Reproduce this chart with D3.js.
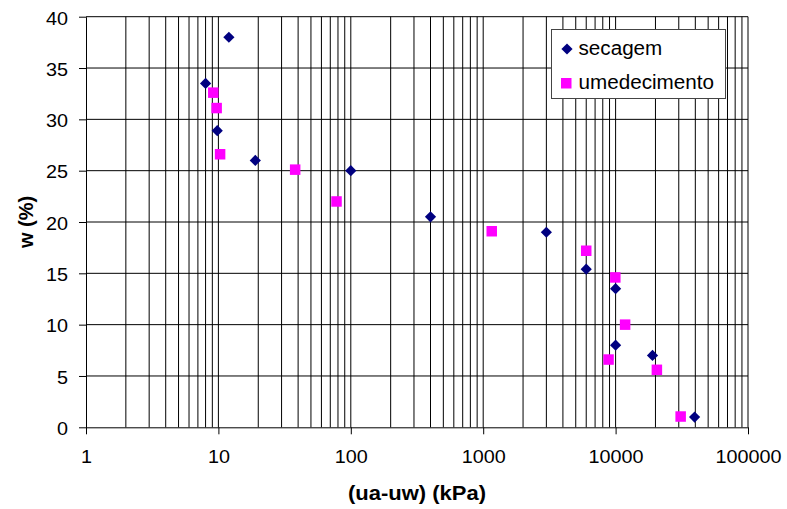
<!DOCTYPE html>
<html>
<head>
<meta charset="utf-8">
<script src="https://cdn.jsdelivr.net/npm/d3@7"></script>
<style>
  html, body { margin: 0; padding: 0; background: #fff; }
  svg { display: block; }
  text { font-family: "Liberation Sans", Arial, sans-serif; fill: #000; }
</style>
</head>
<body>
<svg id="chart" width="787" height="509"></svg>
<script>
// Drying curve (secagem)
const secagemSuction = [12, 8, 9.8, 19, 100, 400, 3000, 6000, 10000, 10000, 19000, 39500];
const secagemW       = [38, 33.5, 28.9, 26, 25, 20.5, 19, 15.4, 13.5, 8, 7, 1];

// Wetting curve (umedecimento)
const umedSuction = [9.15, 9.7, 10.3, 38, 78, 1160, 6000, 9950, 11800, 8850, 20500, 31000];
const umedW       = [32.6, 31.1, 26.6, 25.1, 22, 19.1, 17.2, 14.6, 10, 6.6, 5.6, 1.05];

const xTickValues = [1, 10, 100, 1000, 10000, 100000];
const xTickLabels = ["1", "10", "100", "1000", "10000", "100000"];
const yTickValues = [0, 5, 10, 15, 20, 25, 30, 35, 40];

const seriesNames = ["secagem", "umedecimento"];

const svg = d3.select("#chart");
const plot = { left: 86, right: 748, top: 16.7, bottom: 427.3 };

const x = d3.scaleLog().domain([1, 100000]).range([plot.left, plot.right]);
const y = d3.scaleLinear().domain([0, 40]).range([plot.bottom, plot.top]);

// horizontal stretch applied to horizontal text
const SX = 1.1;

// vertical grid: every 1..9 × 10^k
const vGrid = [];
for (let k = 0; k < 5; k++) {
  for (let d = 1; d <= 9; d++) vGrid.push(d * Math.pow(10, k));
}
vGrid.push(100000);

const grid = svg.append("g");
grid.selectAll("line.v").data(vGrid.filter(v => v > 1)).join("line")
  .attr("x1", d => x(d)).attr("x2", d => x(d))
  .attr("y1", plot.top).attr("y2", plot.bottom)
  .attr("stroke", "#000").attr("stroke-width", 1);
grid.selectAll("line.h").data(yTickValues.filter(v => v > 0)).join("line")
  .attr("x1", plot.left).attr("x2", plot.right)
  .attr("y1", d => y(d)).attr("y2", d => y(d))
  .attr("stroke", "#000").attr("stroke-width", 1);

// y axis
const yAxis = svg.append("g").attr("transform", `translate(${plot.left},0)`)
  .call(d3.axisLeft(y).tickValues(yTickValues).tickSize(7).tickSizeOuter(0).tickFormat(d3.format("d")));
yAxis.select(".domain").attr("stroke", "#000");
yAxis.selectAll(".tick line").attr("stroke", "#000");
yAxis.selectAll(".tick text").remove();
yAxis.selectAll(".tick").append("g")
  .attr("transform", `translate(-18,1) scale(${SX},1)`)
  .append("text")
  .attr("text-anchor", "end")
  .attr("dy", "0.35em")
  .attr("font-size", 18)
  .text(d => d);

// x axis
const xAxis = svg.append("g").attr("transform", `translate(0,${plot.bottom})`)
  .call(d3.axisBottom(x).tickValues(xTickValues).tickSize(7).tickSizeOuter(0));
xAxis.select(".domain").attr("stroke", "#000");
xAxis.selectAll(".tick line").attr("stroke", "#000");
xAxis.selectAll(".tick text").remove();
xAxis.selectAll(".tick").append("g")
  .attr("transform", `translate(0,36) scale(${SX},1)`)
  .append("text")
  .attr("text-anchor", "middle")
  .attr("font-size", 18)
  .text((d, i) => xTickLabels[i]);

// axis titles
svg.append("g")
  .attr("transform", `translate(${(plot.left + plot.right) / 2},500) scale(${SX},1)`)
  .append("text")
  .attr("text-anchor", "middle")
  .attr("font-size", 20)
  .attr("font-weight", "bold")
  .text("(ua-uw) (kPa)");

svg.append("text")
  .attr("transform", `translate(33,222) rotate(-90)`)
  .attr("text-anchor", "middle")
  .attr("font-size", 20)
  .attr("font-weight", "bold")
  .text("w (%)");

// markers
const diamond = d3.symbol().type(d3.symbolDiamond2).size(80);
const secagem = secagemSuction.map((s, i) => ({ s, w: secagemW[i] }));
const umed = umedSuction.map((s, i) => ({ s, w: umedW[i] }));

svg.append("g").selectAll("path").data(secagem).join("path")
  .attr("d", diamond)
  .attr("transform", d => `translate(${x(d.s)},${y(d.w)})`)
  .attr("fill", "#000080");

const sq = 10.5;
svg.append("g").selectAll("rect").data(umed).join("rect")
  .attr("x", d => x(d.s) - sq / 2).attr("y", d => y(d.w) - sq / 2)
  .attr("width", sq).attr("height", sq)
  .attr("fill", "#ff00ff");

// legend
const legend = svg.append("g").attr("transform", "translate(551,29)");
legend.append("rect").attr("x", 0.5).attr("y", 0.5).attr("width", 174).attr("height", 69)
  .attr("fill", "#fff").attr("stroke", "#444").attr("stroke-width", 1);
legend.append("path").attr("d", diamond).attr("transform", "translate(16,20)").attr("fill", "#000080");
legend.append("rect").attr("x", 10).attr("y", 49).attr("width", sq).attr("height", sq).attr("fill", "#ff00ff");
const items = [{ name: seriesNames[0], y: 25.5 }, { name: seriesNames[1], y: 60 }];
legend.selectAll("g.item").data(items).join("g")
  .attr("transform", d => `translate(27.5,${d.y}) scale(1.06,1)`)
  .append("text")
  .attr("font-size", 19.5)
  .text(d => d.name);
</script>
</body>
</html>
